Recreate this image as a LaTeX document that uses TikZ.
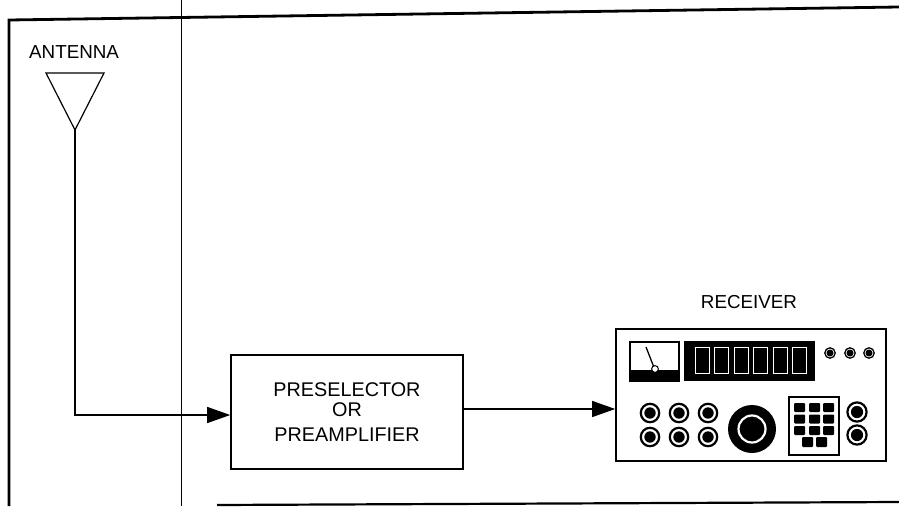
\documentclass[tikz,border=0pt]{standalone}
\usepackage{fontspec}
\setmainfont{Liberation Sans}
\usetikzlibrary{arrows.meta}
\begin{document}
\begin{tikzpicture}[x=1pt,y=-1pt,
  lbl/.style={font=\fontsize{18.8}{21}\selectfont, inner sep=0pt},
  frameline/.style={line width=2.8pt},
  hairline/.style={line width=0.9pt},
  wire/.style={line width=1.2pt},
  feed/.style={wire, -{Triangle[length=23pt,width=16pt]}},
  block/.style={draw, line width=1.6pt, rectangle, inner sep=0pt},
  jackring/.style={line width=2.2pt},
  keycap/.style={fill=black, rounded corners=1pt},
]
\useasboundingbox (0,0) rectangle (899,506);

% page frame and margin rule
\draw[frameline] (899,7) -- (9,20) -- (9,506);
\draw[line width=2.2pt] (217,505) -- (899,502);
\draw[hairline] (181,0) -- (181,506);

% antenna
\node[lbl, anchor=base west] (antlabel) at (29,58) {ANTENNA};
\draw[wire] (46,73) -- (104,73) -- (75,130) -- cycle;
\coordinate (ant) at (75,130);

% preselector block
\node[block, minimum width=232pt, minimum height=114pt, align=center,
      font=\fontsize{19.8}{20.5}\selectfont] (pre) at (347,412)
  {PRESELECTOR\\OR\\[4pt]PREAMPLIFIER};

% receiver panel
\node[lbl, anchor=base] (rxlabel) at (749,308) {RECEIVER};
\node[block, minimum width=270pt, minimum height=132pt] (rx) at (751,395) {};

% signal path
\coordinate (inpt) at ([yshift=-3pt]pre.west);
\draw[feed] (ant) |- (inpt);
\coordinate (outpt) at ([yshift=3pt]pre.east);
\draw[feed] (outpt) -- (outpt -| rx.west);

% signal meter
\draw[line width=1.3pt] (630,342) rectangle (679,381);
\fill (630,370) rectangle (679,381);
\draw[line width=1.3pt] (646,347) -- (655,370);
\draw[fill=white, line width=1pt] (655,369) circle (3.4pt);

% frequency display
\fill (684,341) rectangle (815,381);
\foreach \i in {0,...,5}
  \draw[white, line width=0.9pt] (695+19.5*\i,347) rectangle (709+19.5*\i,373);

% small knobs beside the display
\foreach \x in {830,850,869} {
  \draw[line width=1.3pt] (\x,353) circle (5.2pt);
  \fill (\x,353) circle (3.5pt);
}

% jacks
\foreach \x in {650,679,708}
  \foreach \y in {413,437} {
    \draw[jackring] (\x,\y) circle (9.2pt);
    \fill (\x,\y) circle (5.7pt);
  }
\foreach \y in {412,435} {
  \draw[jackring] (857,\y) circle (9.6pt);
  \fill (857,\y) circle (6.1pt);
}

% tuning knob
\fill (752,429) circle (24pt);
\draw[white, line width=2.2pt] (752,429) circle (13.5pt);

% keypad
\draw[line width=1.5pt] (789,397) rectangle (839,455);
\foreach \x in {794,809,823}
  \foreach \y in {403,414.5,426}
    \fill[keycap] (\x,\y) rectangle (\x+11,\y+9);
\foreach \x in {802,816}
  \fill[keycap] (\x,437) rectangle (\x+11,447);
\end{tikzpicture}
\end{document}
